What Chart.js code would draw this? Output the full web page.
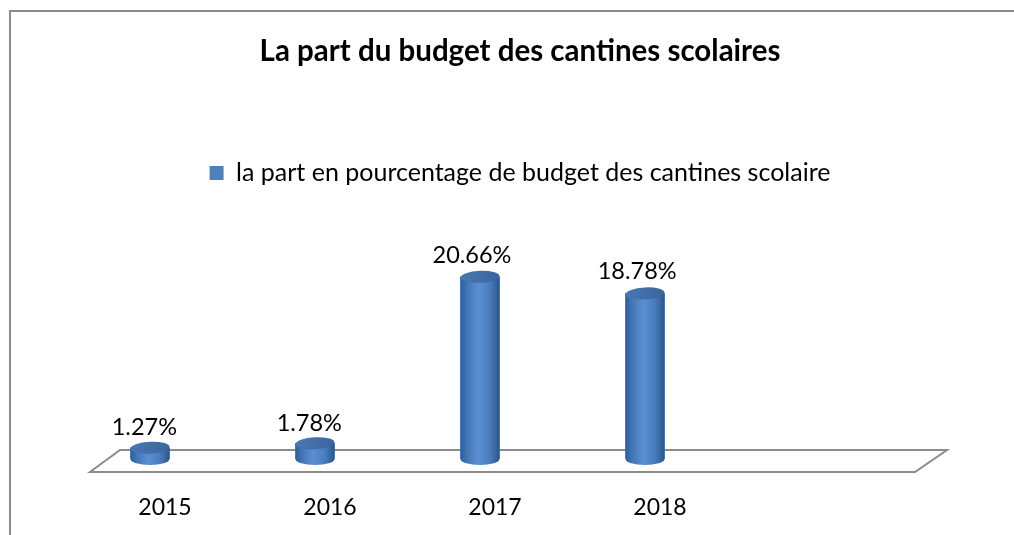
<!DOCTYPE html>
<html>
<head>
<meta charset="utf-8">
<script src="https://cdn.jsdelivr.net/npm/chart.js@4/dist/chart.umd.min.js"></script>
<style>
  body { margin: 0; background: #fff; }
  #wrap { position: relative; width: 1014px; height: 535px; }
  #frame { position: absolute; left: 9px; top: 10px; right: 0; bottom: 0; border-top: 2px solid #8a8a8a; border-left: 2px solid #8a8a8a; }
</style>
</head>
<body>
<div id="wrap">
  <div id="frame"></div>
  <canvas id="budgetChart" width="1014" height="535"></canvas>
</div>
<script>
'use strict';

var years = ['2015', '2016', '2017', '2018', ''];
var shares = [1.27, 1.78, 20.66, 18.78, null];
var seriesName = 'la part en pourcentage de budget des cantines scolaire';
var chartTitle = 'La part du budget des cantines scolaires';

var FONT = 'Lato, "Open Sans", sans-serif';

// floor of the 3d plot, drawn from the chart area
var floorPlugin = {
    id: 'floor',
    beforeDatasetsDraw: function (chart) {
        var a = chart.chartArea;
        var ctx = chart.ctx;
        var fy = a.bottom + 13, by = a.bottom - 9;
        ctx.save();
        ctx.beginPath();
        ctx.moveTo(a.left + 22.5, fy);
        ctx.lineTo(a.right + 22.5, fy);
        ctx.lineTo(a.right + 54.5, by);
        ctx.lineTo(a.left + 52.5, by);
        ctx.closePath();
        ctx.fillStyle = '#fff';
        ctx.fill();
        ctx.strokeStyle = '#8c8c8c';
        ctx.lineWidth = 2;
        ctx.stroke();
        ctx.restore();
    }
};

// repaint each bar as a cylinder + value label
var cylinderPlugin = {
    id: 'cylinder',
    afterDatasetsDraw: function (chart) {
        var ctx = chart.ctx;
        var meta = chart.getDatasetMeta(0);
        meta.data.forEach(function (bar, i) {
            if (shares[i] == null) return;
            var p = bar.getProps(['x', 'y', 'base', 'width'], true);
            var rx = p.width / 2, ry = 6;
            var left = p.x - rx, right = p.x + rx;
            var g = ctx.createLinearGradient(left, 0, right, 0);
            g.addColorStop(0, '#2f5d97');
            g.addColorStop(0.15, '#4174b4');
            g.addColorStop(0.45, '#5b8fd2');
            g.addColorStop(0.75, '#4a7dbd');
            g.addColorStop(1, '#2c5689');
            ctx.save();
            ctx.beginPath();
            ctx.moveTo(left, p.y);
            ctx.lineTo(left, p.base);
            ctx.ellipse(p.x, p.base, rx, ry, 0, Math.PI, 0, true);
            ctx.lineTo(right, p.y);
            ctx.closePath();
            ctx.fillStyle = g;
            ctx.fill();
            var gt = ctx.createLinearGradient(left, p.y - ry, right, p.y + ry);
            gt.addColorStop(0, '#4a78b4');
            gt.addColorStop(1, '#3a659e');
            ctx.beginPath();
            ctx.ellipse(p.x, p.y, rx, ry, -0.05, 0, Math.PI * 2);
            ctx.fillStyle = gt;
            ctx.fill();
            ctx.restore();

            var h = p.base - p.y;
            ctx.save();
            ctx.fillStyle = '#000';
            ctx.font = '23.5px ' + FONT;
            ctx.textAlign = 'center';
            ctx.textBaseline = 'middle';
            ctx.fillText(shares[i].toFixed(2) + '%', p.x - 5.5 - 0.014 * h, p.y - 20 - 0.01 * h);
            ctx.restore();
        });
    }
};

function fixWidth(w) {
    return function (scale) { scale.width = w; };
}

var ctx = document.getElementById('budgetChart').getContext('2d');
var myChart = new Chart(ctx, {
    type: 'bar',
    data: {
        labels: years,
        datasets: [{
            label: seriesName,
            data: shares,
            backgroundColor: '#4f81bd',
            borderWidth: 0,
            barThickness: 39
        }]
    },
    options: {
        responsive: false,
        animation: false,
        layout: { padding: { left: 26, right: 0, top: 0, bottom: 0 } },
        plugins: {
            title: {
                display: true,
                text: chartTitle,
                color: '#000',
                font: { family: FONT, size: 29.5, weight: 'bold' },
                padding: { top: 34, bottom: 81 }
            },
            legend: {
                display: true,
                labels: {
                    color: '#000',
                    font: { family: FONT, size: 25 },
                    boxWidth: 14,
                    boxHeight: 14,
                    padding: 10
                }
            },
            tooltip: { enabled: false }
        },
        scales: {
            x: {
                grid: { display: false, tickLength: 22 },
                border: { display: false },
                ticks: {
                    color: '#000',
                    font: { family: FONT, size: 23, lineHeight: 0.87 },
                    labelOffset: 15,
                    padding: 17
                }
            },
            y: {
                position: 'left',
                min: 0,
                max: 29.9,
                grid: { display: false },
                border: { display: false },
                ticks: { display: false },
                afterFit: fixWidth(41.5)
            },
            yRight: {
                type: 'linear',
                position: 'right',
                min: 0,
                max: 29.9,
                grid: { display: false },
                border: { display: false },
                ticks: { display: false },
                afterFit: fixWidth(121.5)
            }
        }
    },
    plugins: [floorPlugin, cylinderPlugin]
});
</script>
</body>
</html>
